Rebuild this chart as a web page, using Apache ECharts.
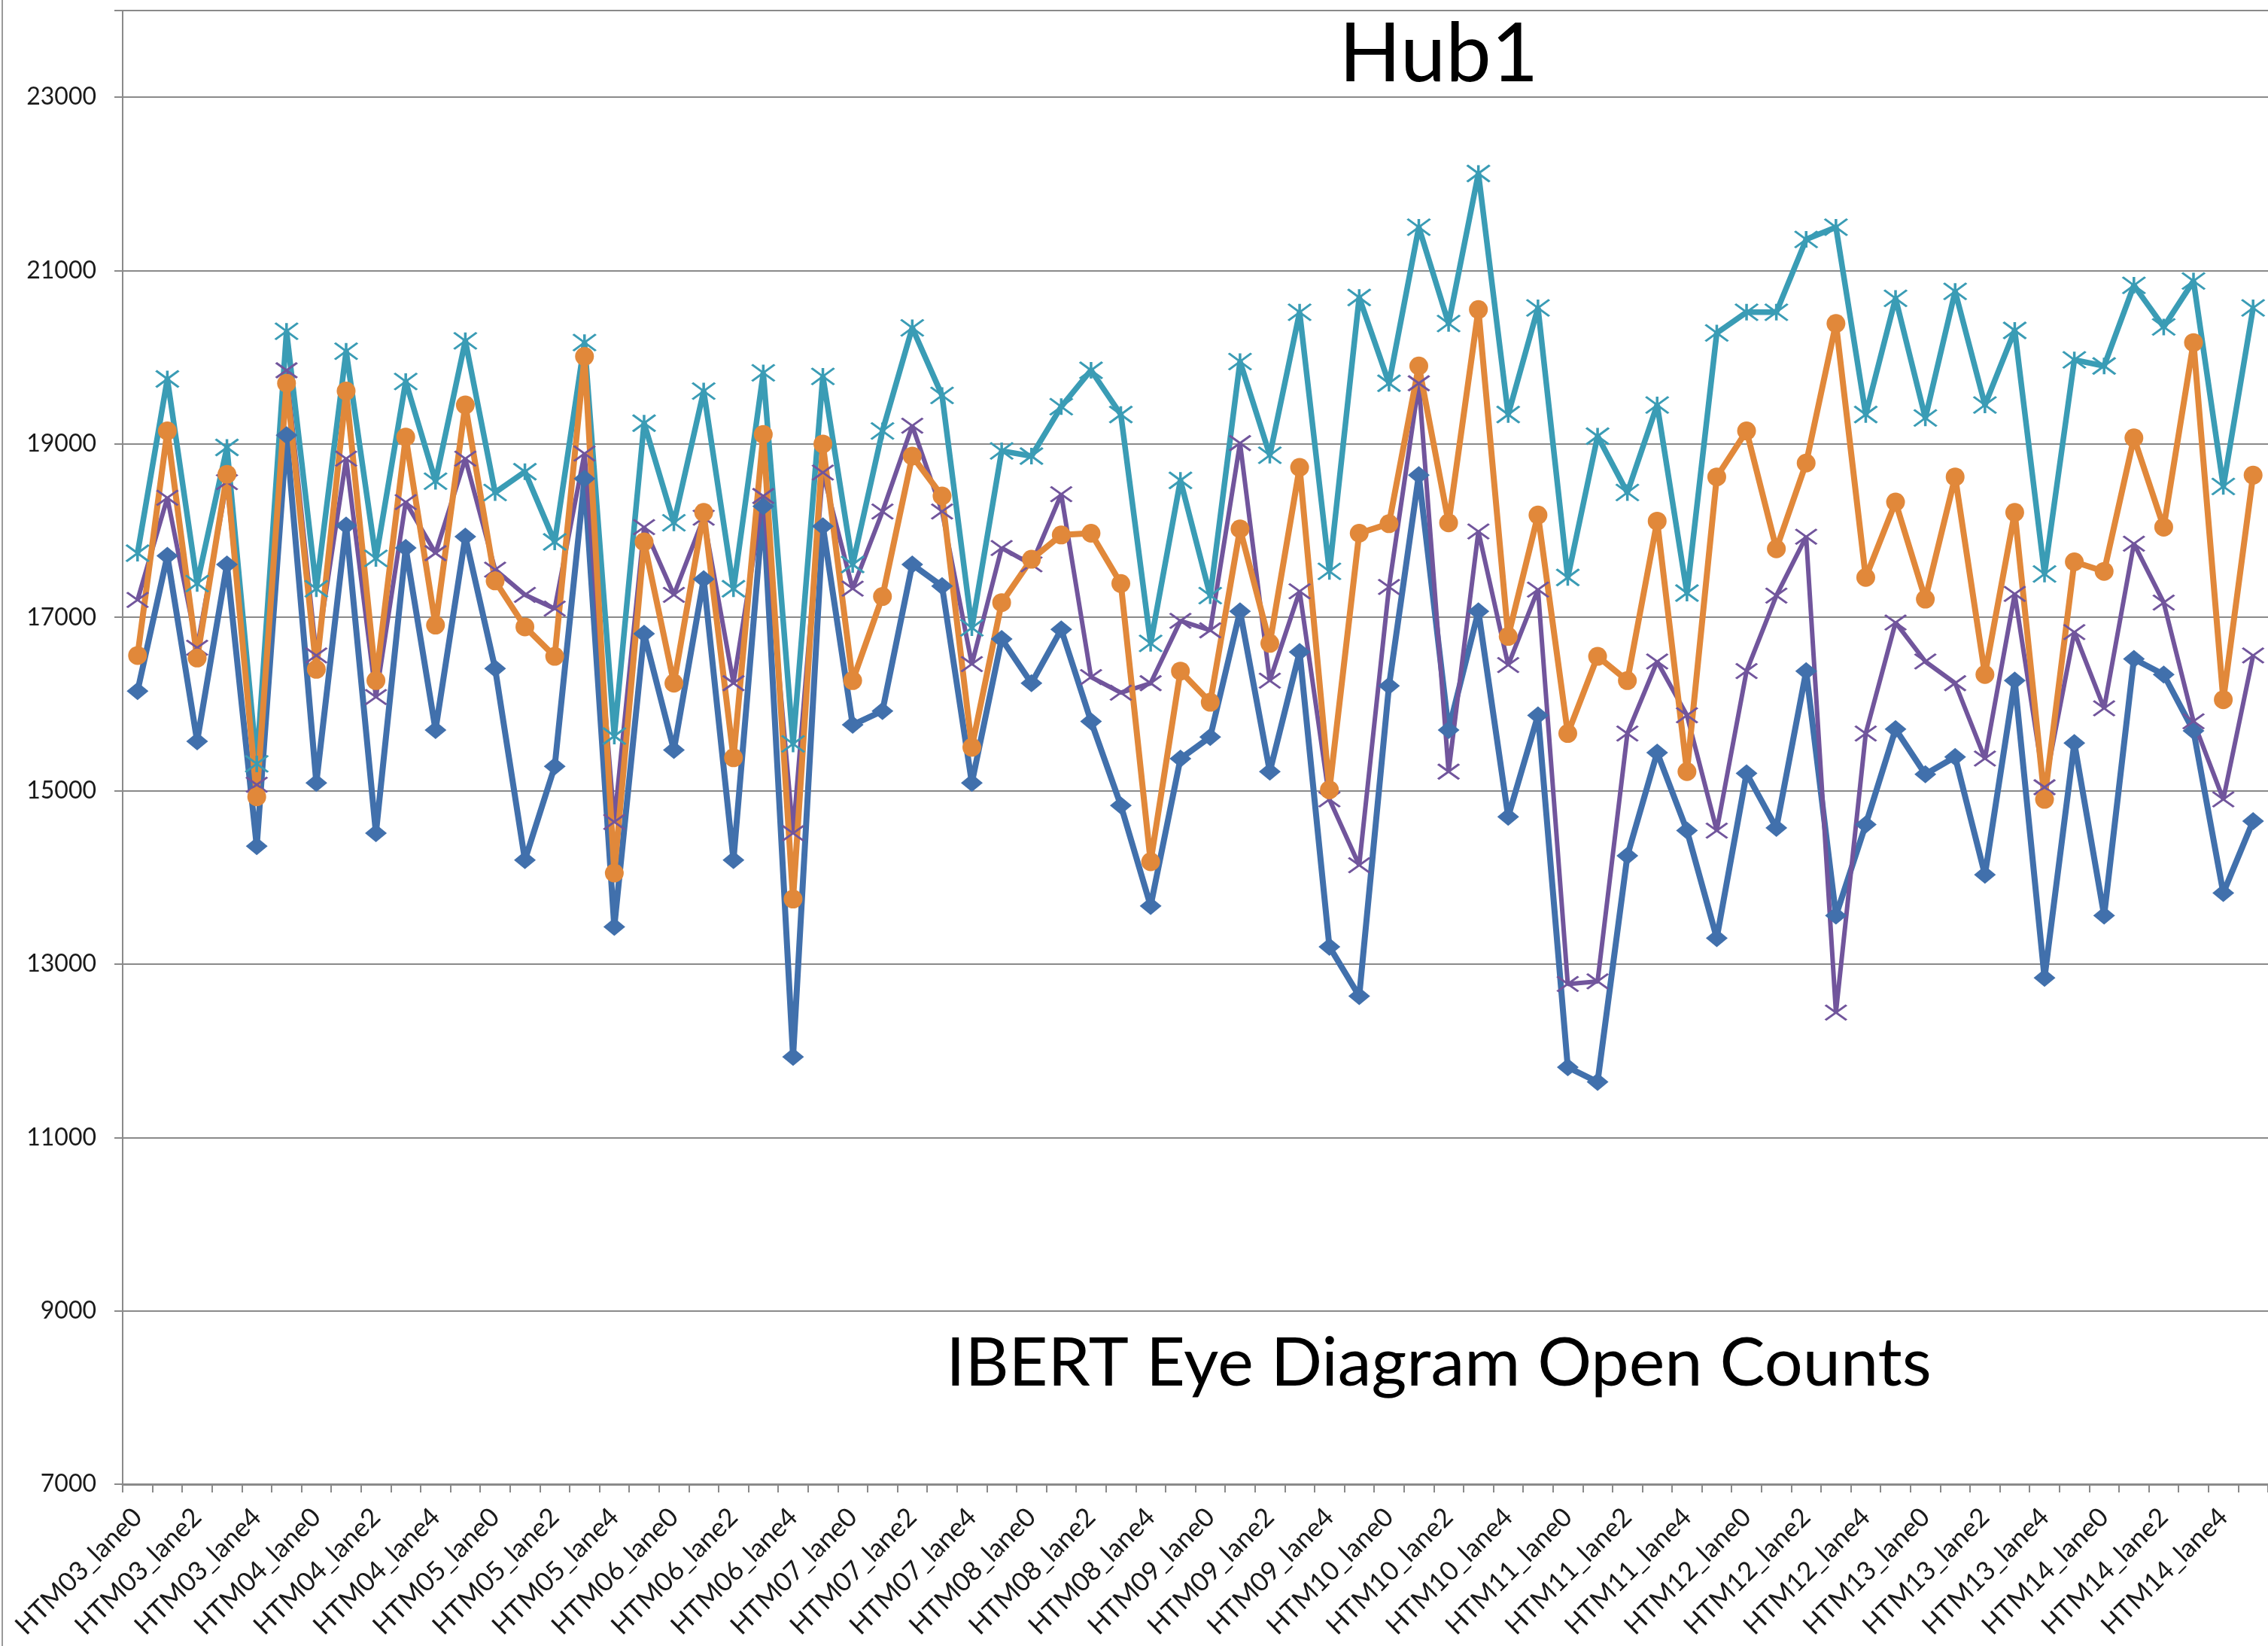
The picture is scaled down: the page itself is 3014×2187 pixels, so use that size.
<!DOCTYPE html>
<html>
<head>
<meta charset="utf-8">
<title>Hub1</title>
<script src="https://cdn.jsdelivr.net/npm/echarts@6/dist/echarts.min.js"></script>
<style>
  html, body { margin: 0; padding: 0; background: #fff; }
  #main { width: 3014px; height: 2187px; }
</style>
</head>
<body>
<div id="main"></div>
<script>
'use strict';

var modules = ['HTM03', 'HTM04', 'HTM05', 'HTM06', 'HTM07', 'HTM08',
               'HTM09', 'HTM10', 'HTM11', 'HTM12', 'HTM13', 'HTM14'];
var lanes = ['lane0', 'lane1', 'lane2', 'lane3', 'lane4', 'lane5'];

var categories = [];
modules.forEach(function (m) {
  lanes.forEach(function (l) { categories.push(m + '_' + l); });
});

// blue, diamond markers
var blueValues = [
  16150, 17710, 15570, 17610, 14360, 19100,
  15090, 18060, 14510, 17800, 15700, 17930,
  16410, 14200, 15280, 18600, 13430, 16810,
  15470, 17440, 14200, 18280, 11930, 18050,
  15760, 15920, 17610, 17360, 15090, 16750,
  16240, 16860, 15800, 14830, 13670, 15370,
  15620, 17070, 15220, 16600, 13200, 12630,
  16210, 18640, 15700, 17070, 14700, 15870,
  11810, 11640, 14250, 15440, 14540, 13300,
  15200, 14570, 16380, 13560, 14610, 15710,
  15190, 15390, 14030, 16270, 12840, 15550,
  13560, 16520, 16340, 15690, 13820, 14650
];

// purple, x markers
var purpleValues = [
  17200, 18380, 16650, 18560, 15070, 19850,
  16560, 18830, 16080, 18330, 17740, 18830,
  17550, 17260, 17100, 18890, 14640, 18040,
  17260, 18150, 16240, 18400, 14510, 18670,
  17330, 18220, 19210, 18220, 16460, 17800,
  17610, 18420, 16310, 16130, 16240, 16960,
  16850, 19010, 16270, 17300, 14900, 14140,
  17350, 19700, 15220, 17990, 16450, 17320,
  12770, 12800, 15660, 16490, 15870, 14540,
  16380, 17250, 17930, 12440, 15660, 16940,
  16490, 16240, 15370, 17270, 15040, 16830,
  15950, 17850, 17170, 15800, 14900, 16560
];

// teal, star markers
var tealValues = [
  17740, 19750, 17390, 18960, 15310, 20300,
  17330, 20070, 17680, 19720, 18570, 20190,
  18440, 18680, 17870, 20170, 15630, 19240,
  18090, 19610, 17330, 19820, 15540, 19780,
  17610, 19150, 20340, 19560, 16880, 18920,
  18860, 19430, 19850, 19340, 16700, 18580,
  17250, 19950, 18870, 20520, 17530, 20690,
  19700, 21500, 20390, 22120, 19340, 20570,
  17460, 19090, 18440, 19450, 17280, 20280,
  20520, 20520, 21360, 21500, 19340, 20680,
  19300, 20760, 19450, 20310, 17500, 19970,
  19900, 20830, 20350, 20880, 18510, 20570
];

// orange, circle markers
var orangeValues = [
  16560, 19150, 16530, 18650, 14930, 19700,
  16400, 19610, 16270, 19080, 16910, 19450,
  17420, 16890, 16550, 20010, 14050, 17870,
  16240, 18210, 15380, 19110, 13750, 19000,
  16270, 17240, 18860, 18400, 15500, 17170,
  17670, 17950, 17970, 17390, 14180, 16380,
  16020, 18020, 16700, 18730, 15010, 17970,
  18080, 19900, 18090, 20550, 16780, 18180,
  15660, 16550, 16270, 18110, 15220, 18620,
  19150, 17790, 18780, 20390, 17460, 18330,
  17210, 18620, 16340, 18210, 14900, 17640,
  17530, 19070, 18040, 20170, 16050, 18640
];

var FONT = 'Lato, "Open Sans", sans-serif';
var GRID_COLOR = '#8a8a8a';

function lineSeries(name, data, color, width, symbol, size, border) {
  return {
    name: name,
    type: 'line',
    data: data,
    symbol: symbol,
    symbolSize: size,
    showAllSymbol: true,
    animation: false,
    lineStyle: { color: color, width: width },
    itemStyle: { color: color, borderColor: color, borderWidth: border }
  };
}

var myChart = echarts.init(document.getElementById('main'), null, { renderer: 'canvas' });
myChart.setOption({
  backgroundColor: '#fff',
  animation: false,
  grid: {
    left: 163,
    right: -15,
    top: 14,
    bottom: 215,
    containLabel: false
  },
  graphic: [
    {
      type: 'line',
      shape: { x1: 3, y1: 0, x2: 3, y2: 2187 },
      style: { stroke: '#9a9a9a', lineWidth: 2 }
    },
    {
      type: 'text',
      x: 1912, y: 73,
      style: {
        text: 'Hub1',
        font: '108px ' + FONT,
        fill: '#000',
        textAlign: 'center',
        textVerticalAlign: 'middle'
      }
    },
    {
      type: 'text',
      x: 1912, y: 1812,
      style: {
        text: 'IBERT Eye Diagram Open Counts',
        font: '90px ' + FONT,
        fill: '#000',
        textAlign: 'center',
        textVerticalAlign: 'middle'
      }
    }
  ],
  xAxis: {
    type: 'category',
    data: categories,
    boundaryGap: true,
    axisLine: { lineStyle: { color: GRID_COLOR, width: 3 } },
    axisTick: { show: true, interval: 0, length: 11, lineStyle: { color: GRID_COLOR, width: 2 } },
    axisLabel: {
      interval: 1,
      rotate: 45,
      margin: 38,
      fontFamily: FONT,
      fontSize: 35,
      color: '#1a1a1a'
    },
    splitLine: { show: false }
  },
  yAxis: {
    type: 'value',
    min: 7000,
    max: 24000,
    interval: 2000,
    axisLine: { show: true, lineStyle: { color: GRID_COLOR, width: 2 } },
    axisTick: { show: true, length: 11, lineStyle: { color: GRID_COLOR, width: 2 } },
    axisLabel: {
      margin: 35,
      fontFamily: FONT,
      fontSize: 32,
      color: '#1a1a1a',
      formatter: function (v) { return v === 24000 ? '' : String(v); }
    },
    splitLine: { show: true, lineStyle: { color: GRID_COLOR, width: 2 } }
  },
  series: [
    lineSeries('blue', blueValues, '#4170AC', 8, 'diamond', [29, 24], 0),
    lineSeries('purple', purpleValues, '#71559C', 6, 'path://M0,0L10,10M10,0L0,10', [28, 20], 3),
    lineSeries('teal', tealValues, '#3A9CB5', 7.5, 'path://M0,0L10,10M10,0L0,10M5,0L5,10', [30, 22], 3),
    lineSeries('orange', orangeValues, '#E1883A', 8, 'circle', 25, 0)
  ]
});
</script>
</body>
</html>
